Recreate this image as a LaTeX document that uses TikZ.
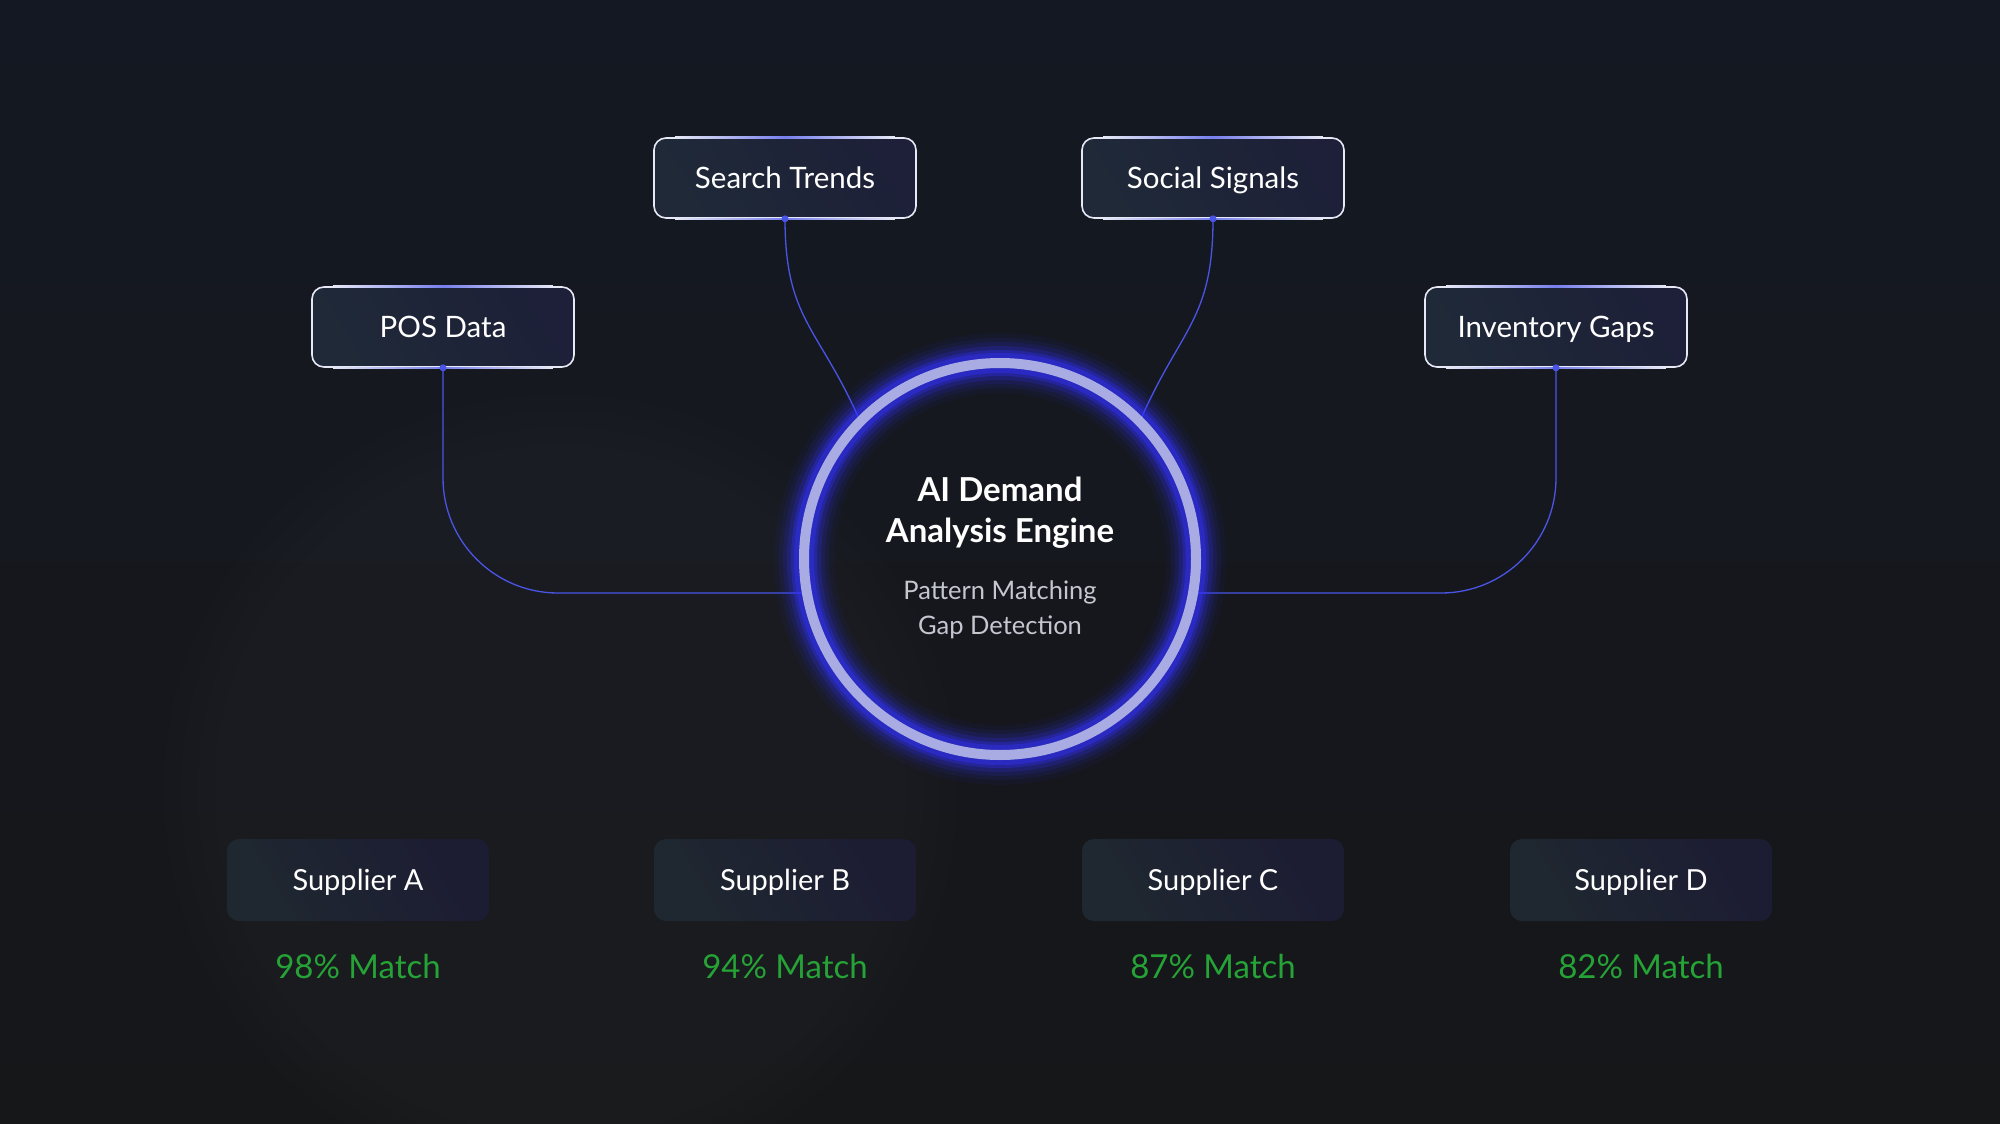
\documentclass[tikz,border=0pt]{standalone}
\usepackage{fontspec}
\setmainfont{Lato}
\usetikzlibrary{positioning,fadings}

\begin{document}
\begin{tikzpicture}[x=1pt, y=-1pt,
  srcbox/.style={draw=boxline, line width=1.6pt, rounded corners=12pt,
    left color=boxl, right color=boxr, shading angle=120,
    minimum width=262pt, minimum height=80pt, text height=21pt, text depth=0pt,
    text=white, font=\fontsize{29.5}{34}\selectfont},
  suppbox/.style={rounded corners=12pt, left color=supl, right color=supr, shading angle=120,
    minimum width=262pt, minimum height=82pt, text height=21pt, text depth=0pt,
    text=white, font=\fontsize{29}{34}\selectfont},
  matchlbl/.style={text=matchc, font=\fontsize{33}{38}\selectfont},
  link/.style={linkc, line width=1.3pt},
  hilite/.style={left color=boxline, right color=boxline, middle color=linkc!75!white}]
  % Define colors
  \definecolor{bgtop}{HTML}{141822}
  \definecolor{bgbot}{HTML}{161719}
  \definecolor{boxl}{HTML}{1F2938}
  \definecolor{boxr}{HTML}{1D2038}
  \definecolor{boxline}{HTML}{E6E8F5}
  \definecolor{supl}{HTML}{1F2830}
  \definecolor{supr}{HTML}{1C1C33}
  \definecolor{linkc}{HTML}{4A55E6}
  \definecolor{ringc}{HTML}{A9ABE3}
  \definecolor{glowc}{HTML}{3333FF}
  \definecolor{matchc}{HTML}{25A336}
  \definecolor{subc}{HTML}{C4C6D0}

  % Background
  \useasboundingbox (0,0) rectangle (2000,1124);
  \shade[top color=bgtop, bottom color=bgbot] (0,0) rectangle (2000,1124);
  \fill[white, opacity=0.02, path fading=circle with fuzzy edge 20 percent] (560,790) circle (420);

  % Engine (placed first so links can end on it)
  \node[circle, minimum size=400pt, inner sep=0pt] (engine) at (1000,559) {};

  % Input sources
  \node[srcbox] (pos) at (443,327) {POS Data};
  \node[srcbox] (search) at (785,178) {Search Trends};
  \node[srcbox] (social) at (1213,178) {Social Signals};
  \node[srcbox] (inv) at (1556,327) {Inventory Gaps};

  % Blue highlight on top and bottom edges
  \foreach \b in {pos,search,social,inv} {
    \shade[hilite] ([xshift=22pt,yshift=-0.8pt]\b.north west) rectangle ([xshift=-22pt,yshift=0.8pt]\b.north east);
    \shade[hilite] ([xshift=22pt,yshift=-0.8pt]\b.south west) rectangle ([xshift=-22pt,yshift=0.8pt]\b.south east);
  }

  % Links into the engine
  \coordinate (lin) at (803,593);
  \coordinate (rin) at (1197,593);
  \draw[link, rounded corners=115pt] (pos.south) |- (lin);
  \draw[link, rounded corners=115pt] (inv.south) |- (rin);
  \draw[link] (search.south) .. controls +(0,100) and +(-40,-90) .. (engine.135);
  \draw[link] (social.south) .. controls +(0,100) and +(40,-90) .. (engine.45);
  \foreach \b in {pos,search,social,inv}
    \fill[linkc] (\b.south) circle (3.5);

  % Glow and ring
  \foreach \w/\o in {60/0.05,50/0.08,42/0.12,34/0.18,26/0.3,20/0.4} {
    \draw[glowc, opacity=\o, line width=\w pt] (engine.center) circle (196);
  }
  \draw[ringc, line width=10pt] (engine.center) circle (196);

  % Engine text
  \node[text=white, align=center, font=\fontsize{33}{41}\bfseries\selectfont] (title) at (1000,513) {AI Demand\\Analysis Engine};
  \node[text=subc, align=center, font=\fontsize{25.5}{35}\selectfont] (sub) at (1000,610) {Pattern Matching\\Gap Detection};

  % Suppliers
  \node[suppbox] (sa) at (358,880) {Supplier A};
  \node[suppbox] (sb) at (785,880) {Supplier B};
  \node[suppbox] (sc) at (1213,880) {Supplier C};
  \node[suppbox] (sd) at (1641,880) {Supplier D};

  \node[matchlbl] (ma) at (358,966) {98\% Match};
  \node[matchlbl] (mb) at (785,966) {94\% Match};
  \node[matchlbl] (mc) at (1213,966) {87\% Match};
  \node[matchlbl] (md) at (1641,966) {82\% Match};
\end{tikzpicture}
\end{document}
